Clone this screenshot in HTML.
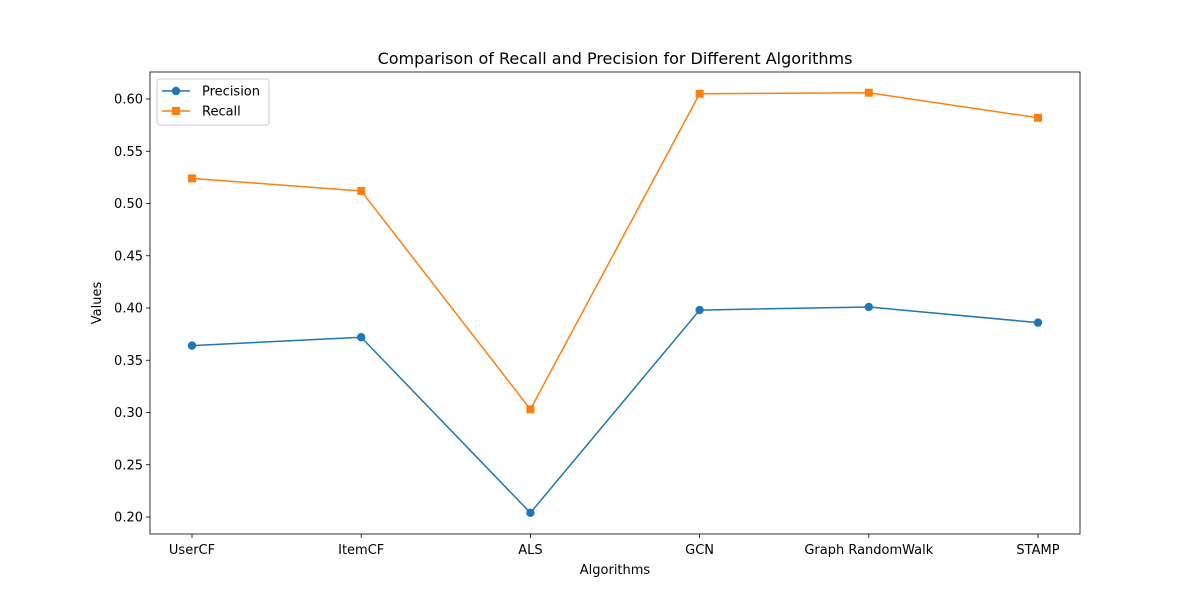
<!DOCTYPE html>
<html><head><meta charset="utf-8"><style>
body{margin:0;background:#fff;}
svg text{font-family:"DejaVu Sans","Liberation Sans",sans-serif;}
</style></head><body>
<svg id="chart" width="1200" height="600" xmlns="http://www.w3.org/2000/svg">
<rect width="1200" height="600" fill="#fff"/>
<text x="615" y="64" font-size="16" text-anchor="middle">Comparison of Recall and Precision for Different Algorithms</text>
<g id="axes"></g>
<text x="615" y="574" font-size="13" text-anchor="middle">Algorithms</text>
<text x="101" y="303" font-size="13" text-anchor="middle" transform="rotate(-90 101 303)">Values</text>
</svg>
<script>
const categories=["UserCF","ItemCF","ALS","GCN","Graph RandomWalk","STAMP"];
const precision=[0.364,0.372,0.204,0.398,0.401,0.386];
const recall=[0.524,0.512,0.303,0.605,0.606,0.582];
const yTicks=[0.20,0.25,0.30,0.35,0.40,0.45,0.50,0.55,0.60];

const L=150,R=1080,T=72,B=534;
const yv=v=>517-(v-0.2)*1045;
const xv=i=>192+i*(1038-192)/(categories.length-1);
const ns="http://www.w3.org/2000/svg";
const g=document.getElementById('axes');
function mk(t,a){const e=document.createElementNS(ns,t);for(const k in a)e.setAttribute(k,a[k]);g.appendChild(e);return e;}

yTicks.forEach(v=>{
  const y=yv(v);
  const tk=mk('line',{x1:L-4,x2:L,y1:y,y2:y,stroke:'#000','stroke-width':0.8});
  
  
  const t=mk('text',{x:L-7,y:y+4.5,'font-size':13,'text-anchor':'end'});
  t.textContent=v.toFixed(2);
  
  
});
categories.forEach((c,i)=>{
  const x=xv(i);
  const tk=mk('line',{x1:x,x2:x,y1:B,y2:B+4,stroke:'#000','stroke-width':0.8});
  
  
  const t=mk('text',{x:x,y:B+20,'font-size':13,'text-anchor':'middle'});
  t.textContent=c;
  
  
});

function series(vals,color,marker,name){
  const pts=vals.map((v,i)=>xv(i)+','+yv(v)).join(' ');
  const pl=mk('polyline',{points:pts,fill:'none',stroke:color,'stroke-width':1.5});
  
  
  vals.forEach((v,i)=>{
    let m;
    if(marker==='o')m=mk('circle',{cx:xv(i),cy:yv(v),r:4.2,fill:color});
    else m=mk('rect',{x:xv(i)-4,y:yv(v)-4,width:8,height:8,fill:color});
    
    
  });
}
series(precision,'#1f77b4','o','precision');
series(recall,'#ff7f0e','s','recall');

const fr=mk('rect',{x:L,y:T,width:R-L,height:B-T,fill:'none',stroke:'#000','stroke-width':0.8});



const lg=mk('rect',{x:157,y:79,width:112,height:46,fill:'#fff',stroke:'#ccc','stroke-width':1,rx:3});


[['Precision','#1f77b4','o',91],['Recall','#ff7f0e','s',111]].forEach(([n,c,m,y])=>{
  const l=mk('line',{x1:162,x2:190,y1:y,y2:y,stroke:c,'stroke-width':1.5});
  
  
  const mm=m==='o'?mk('circle',{cx:176,cy:y,r:4.2,fill:c}):mk('rect',{x:172,y:y-4,width:8,height:8,fill:c});
  
  
  const t=mk('text',{x:202,y:y+4.5,'font-size':13});
  t.textContent=n;
  
  
});
</script>
</body></html>
